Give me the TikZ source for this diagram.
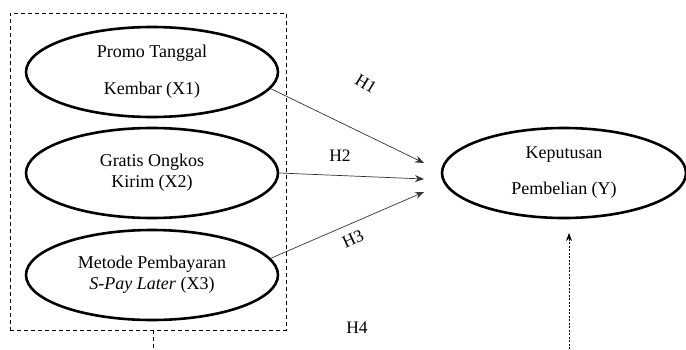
\documentclass[tikz,border=0pt]{standalone}
\usepackage{fontspec}
\setmainfont{Liberation Serif}
\usetikzlibrary{shapes.geometric,arrows.meta}
\begin{document}
\begin{tikzpicture}[x=1pt,y=-1pt,
  var/.style={draw, ellipse, line width=2.6pt, minimum width=252pt, minimum height=90pt, inner sep=0pt, align=center, font=\fontsize{18}{21}\selectfont},
  hyp/.style={draw=black!80, line width=0.7pt, -{Stealth[length=9pt,width=7pt]}},
  lbl/.style={font=\fontsize{17.5}{20}\selectfont, inner sep=0pt}]
\useasboundingbox (0,0) rectangle (686,349);
\node[draw, dash pattern=on 4pt off 3pt, line width=0.8pt, minimum width=276pt, minimum height=317pt, inner sep=0pt] (box) at (148,171.5) {};
\node[var] (e1) at (152,72) {Promo Tanggal\\[16pt]Kembar (X1)};
\node[var] (e2) at (152,173) {Gratis Ongkos\\Kirim (X2)};
\node[var] (e3) at (152,275) {Metode Pembayaran\\\textit{S-Pay Later} (X3)};
\node[var, minimum width=244pt] (y) at (564,173) {Keputusan\\[15pt]Pembelian (Y)};
\coordinate (t1) at (424,163);
\coordinate (t2) at (424,179);
\coordinate (t3) at (424,192);
\draw[hyp] (e1.-8) -- (t1);
\draw[hyp] (e2.east) -- (t2);
\draw[hyp] (e3.8) -- (t3);
\node[lbl, rotate=-31] (h1) at (366,84) {H1};
\node[lbl] (h2) at (340,156) {H2};
\node[lbl, rotate=25] (h3) at (353,239) {H3};
\node[lbl] (h4) at (357,328) {H4};
\coordinate (b0) at (153,349);
\draw[dash pattern=on 4pt off 3pt, line width=0.8pt] (box.south -| b0) -- (b0);
\coordinate (v0) at (569,349);
\coordinate (v1) at (569,233);
\draw[dash pattern=on 2pt off 1.5pt, line width=0.8pt, -{Stealth[length=8pt,width=6pt]}] (v0) -- (v1);
\end{tikzpicture}
\end{document}
